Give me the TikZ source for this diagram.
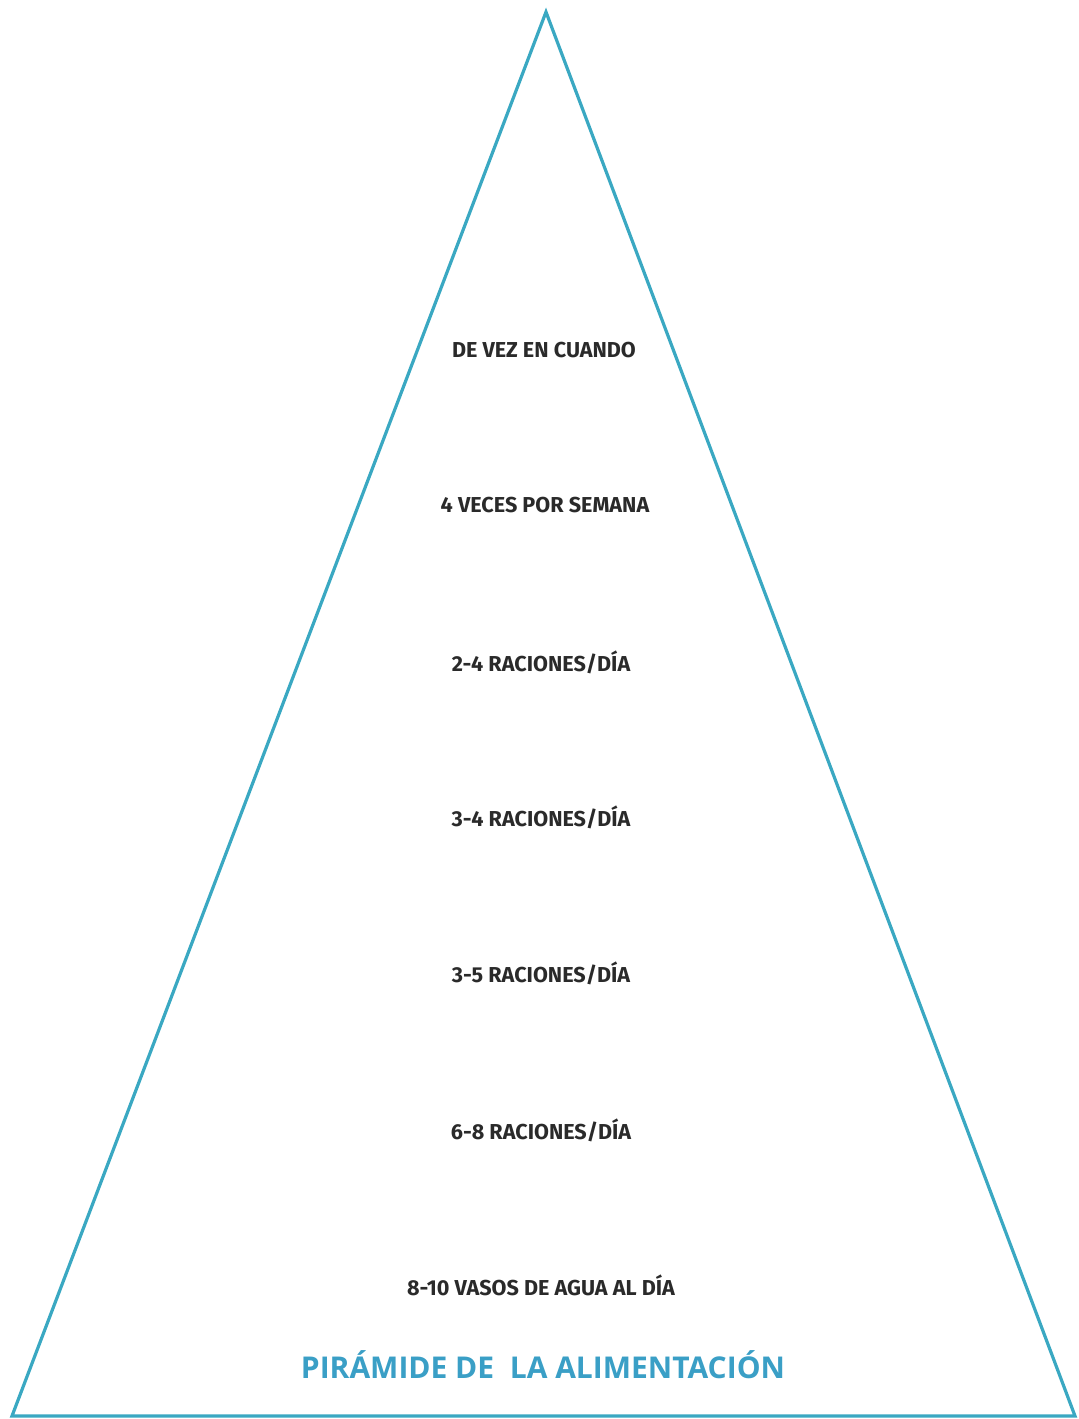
\documentclass[tikz,border=0pt]{standalone}
\usepackage{fontspec}
\setmainfont{Fira Sans}
\newfontfamily\titlefont{Open Sans}
\usepackage{xcolor}
\usetikzlibrary{positioning,calc}
\definecolor{pmLine}{HTML}{3AA8C2}
\definecolor{pmTitle}{HTML}{3A9FC6}
\definecolor{pmInk}{HTML}{2A2A2A}
\tikzset{
  level text/.style={font=\bfseries\fontsize{10.8}{12}\selectfont,text=pmInk,inner sep=0pt},
  pyramid title/.style={font=\titlefont\bfseries\fontsize{15}{17}\selectfont,text=pmTitle,inner sep=0pt},
  pyramid edge/.style={draw=pmLine,line width=1.6pt,line join=miter}
}
\begin{document}
\begin{tikzpicture}[x=0.5pt,y=-0.5pt]
\useasboundingbox (0,0) rectangle (1078,1419);
\coordinate (apex) at (546,12);
\coordinate (left) at (12,1416);
\coordinate (right) at (1075,1416);
\draw[pyramid edge] (apex) -- (right) -- (left) -- cycle;
\node[level text] (l7) at (544,350) {DE VEZ EN CUANDO};
\node[level text] (l6) at (545,505) {4 VECES POR SEMANA};
\node[level text] (l5) at (541,662) {2-4 RACIONES/DÍA};
\node[level text] (l4) at (541,817) {3-4 RACIONES/DÍA};
\node[level text] (l3) at (541,973) {3-5 RACIONES/DÍA};
\node[level text] (l2) at (541,1130) {6-8 RACIONES/DÍA};
\node[level text] (l1) at (541,1285) {8-10 VASOS DE AGUA AL DÍA};
\node[pyramid title] (title) at (543,1365) {PIRÁMIDE DE\ \ LA ALIMENTACIÓN};
\end{tikzpicture}
\end{document}
